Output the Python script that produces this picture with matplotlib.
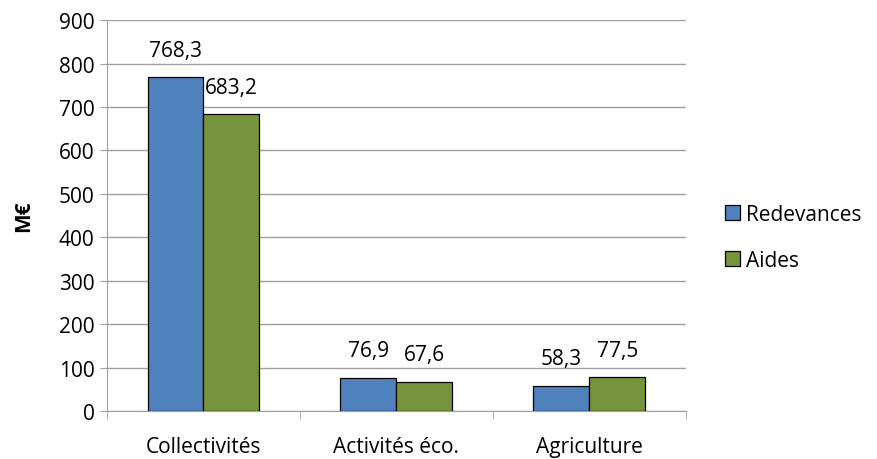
import numpy as np
import matplotlib.pyplot as plt

categories = ["Collectivités", "Activités éco.", "Agriculture"]
redevances = [768.3, 76.9, 58.3]
aides = [683.2, 67.6, 77.5]
yticks = [0, 100, 200, 300, 400, 500, 600, 700, 800, 900]

plt.rcParams['font.family'] = ['Open Sans', 'DejaVu Sans']
FS = 15

fig = plt.figure(figsize=(8.77, 4.6), dpi=100)
ax = fig.add_axes([0.122, 0.104, 0.660, 0.850])

x = np.arange(len(categories))
w = 0.29
b1 = ax.bar(x - w / 2, redevances, w, color='#4F81BD', edgecolor='black', linewidth=0.9,
            label='Redevances', zorder=3)
b2 = ax.bar(x + w / 2, aides, w, color='#77933C', edgecolor='black', linewidth=0.9,
            label='Aides', zorder=3)

fmt = lambda v: f"{v:.1f}".replace('.', ',')
for bars, vals in ((b1, redevances), (b2, aides)):
    for r, v in zip(bars, vals):
        ax.annotate(fmt(v), (r.get_x() + r.get_width() / 2, v), xytext=(0, 12),
                    textcoords='offset points', ha='center', va='bottom',
                    fontsize=FS, color='black')

ax.set_xlim(-0.5, 2.5)
ax.set_ylim(0, 900)
ax.set_yticks(yticks)
ax.set_yticklabels([str(t) for t in yticks], fontsize=FS)
ax.yaxis.grid(True, color='#A0A0A0', linewidth=1, zorder=0)
ax.set_axisbelow(True)

ax.set_xticks(x)
ax.set_xticklabels(categories, fontsize=FS)
ax.set_xticks([-0.5, 0.5, 1.5, 2.5], minor=True)
ax.tick_params(axis='x', which='major', length=0, pad=18)
ax.tick_params(axis='x', which='minor', length=6, color='#A0A0A0', direction='out')
ax.tick_params(axis='y', length=5, color='#A0A0A0', direction='out', pad=4)

for s in ('top', 'right'):
    ax.spines[s].set_visible(False)
ax.spines['left'].set_color('#A0A0A0')
ax.spines['bottom'].set_color('#A0A0A0')

ax.set_ylabel('M€', fontsize=FS, fontweight='bold', labelpad=18)

ax.legend(loc='center left', bbox_to_anchor=(1.035, 0.445), frameon=False, fontsize=FS,
          handlelength=0.75, handleheight=0.75, handletextpad=0.25, labelspacing=1.2)

fig.savefig('out.png', dpi=100)
